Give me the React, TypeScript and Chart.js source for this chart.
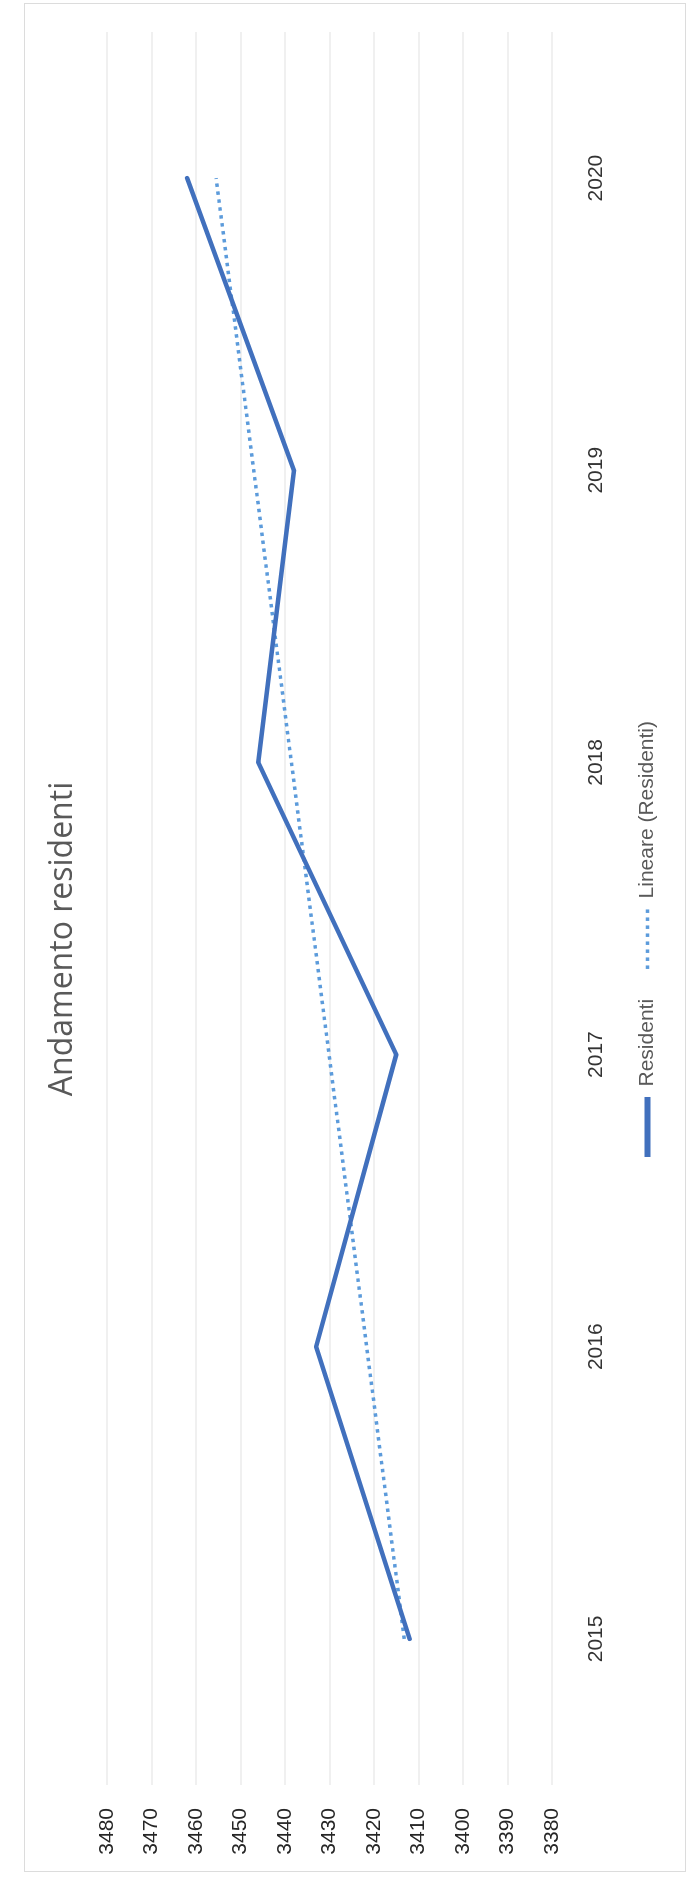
import React, { useEffect, useRef } from "react";
import { Chart, registerables } from "chart.js";

Chart.register(...registerables);

// ---- data ----
const years: string[] = ["2015", "2016", "2017", "2018", "2019", "2020"];
const residenti: number[] = [3412, 3433, 3415, 3446, 3438, 3462];
const valueMin = 3380;
const valueMax = 3480;
const valueStep = 10;
const titleText = "Andamento residenti";
const seriesName = "Residenti";
const trendName = "Lineare (Residenti)";

// Excel "Lineare" trendline = least-squares fit of the series
function linearTrend(values: number[]): number[] {
  const n = values.length;
  const mx = (n - 1) / 2;
  const my = values.reduce((a, b) => a + b, 0) / n;
  let sxy = 0;
  let sxx = 0;
  values.forEach((v, i) => {
    sxy += (i - mx) * (v - my);
    sxx += (i - mx) * (i - mx);
  });
  const slope = sxy / sxx;
  return values.map((_, i) => my + slope * (i - mx));
}

const W = 1878; // landscape width (page height)
const H = 691; // landscape height (page width)
const MAIN = "#4170BD";
const TREND = "#5C9BDB";

export default function App() {
  const ref = useRef<HTMLCanvasElement>(null);

  useEffect(() => {
    document.body.style.overflow = "hidden";
    const canvas = ref.current;
    if (!canvas) return;
    const trend = linearTrend(residenti);
    const tickFont = { family: "'Liberation Sans', Arial, sans-serif", size: 21 };
    const chart = new Chart(canvas, {
      type: "line",
      data: {
        labels: years,
        datasets: [
          {
            label: seriesName,
            data: residenti,
            borderColor: MAIN,
            backgroundColor: MAIN,
            borderWidth: 4.5,
            pointRadius: 0,
            tension: 0,
            fill: false,
            borderJoinStyle: "round",
            borderCapStyle: "round",
          },
          {
            label: trendName,
            data: trend,
            borderColor: TREND,
            backgroundColor: TREND,
            borderWidth: 3.5,
            borderDash: [3.5, 4.5],
            pointRadius: 0,
            tension: 0,
            fill: false,
          },
        ],
      },
      options: {
        responsive: false,
        animation: false,
        devicePixelRatio: 1,
        layout: { padding: { left: 10, right: 10, top: 0, bottom: 23 } },
        plugins: {
          tooltip: { enabled: false },
          title: {
            display: true,
            text: titleText,
            color: "#595959",
            font: { family: "'Open Sans', sans-serif", size: 32, weight: "normal" },
            padding: { top: 44, bottom: 24.6 },
          },
          legend: {
            position: "bottom",
            labels: {
              usePointStyle: true,
              pointStyleWidth: 60,
              padding: 30,
              color: "#595959",
              font: { family: "'Liberation Sans', Arial, sans-serif", size: 21 },
              generateLabels: () => [
                {
                  text: seriesName,
                  fillStyle: MAIN,
                  strokeStyle: MAIN,
                  lineWidth: 6,
                  lineDash: [],
                  pointStyle: "line",
                  hidden: false,
                  datasetIndex: 0,
                  fontColor: "#595959",
                },
                {
                  text: trendName,
                  fillStyle: TREND,
                  strokeStyle: TREND,
                  lineWidth: 3.5,
                  lineDash: [3.5, 4.5],
                  pointStyle: "line",
                  hidden: false,
                  datasetIndex: 1,
                  fontColor: "#595959",
                },
              ],
            },
          },
        },
        scales: {
          x: {
            offset: true,
            grid: { display: false, drawTicks: false },
            border: { display: false },
            ticks: { padding: 32, color: "#333333", font: tickFont, maxRotation: 0 },
            afterFit: (s: any) => {
              s.height = 55;
            },
          },
          y: {
            min: valueMin,
            max: valueMax,
            ticks: {
              stepSize: valueStep,
              padding: 23,
              color: "#262626",
              font: tickFont,
              callback: (v: any) => String(v),
            },
            grid: { color: "#f0f0f0", lineWidth: 2, drawTicks: false },
            border: { display: false },
            afterFit: (s: any) => {
              s.width = 83;
            },
          },
          // empty right-hand spacer so the plot area ends where the reference's does
          spacer: {
            type: "linear",
            position: "right",
            display: true,
            grid: { display: false, drawTicks: false },
            border: { display: false },
            ticks: { display: false },
            afterFit: (s: any) => {
              s.width = 22;
            },
          },
        },
      },
    } as any);
    return () => chart.destroy();
  }, []);

  return (
    <div>
      <div
        style={{
          position: "absolute",
          left: 24,
          top: 3,
          width: 660,
          height: 1867,
          border: "1px solid #dcdcdc",
          background: "#ffffff",
        }}
      />
      <div
        style={{
          position: "absolute",
          left: 0,
          top: 0,
          width: W,
          height: H,
          transformOrigin: "0 0",
          transform: `translate(0px, ${W}px) rotate(-90deg)`,
        }}
      >
        <canvas ref={ref} width={W} height={H} style={{ width: W, height: H, display: "block" }} />
      </div>
    </div>
  );
}
